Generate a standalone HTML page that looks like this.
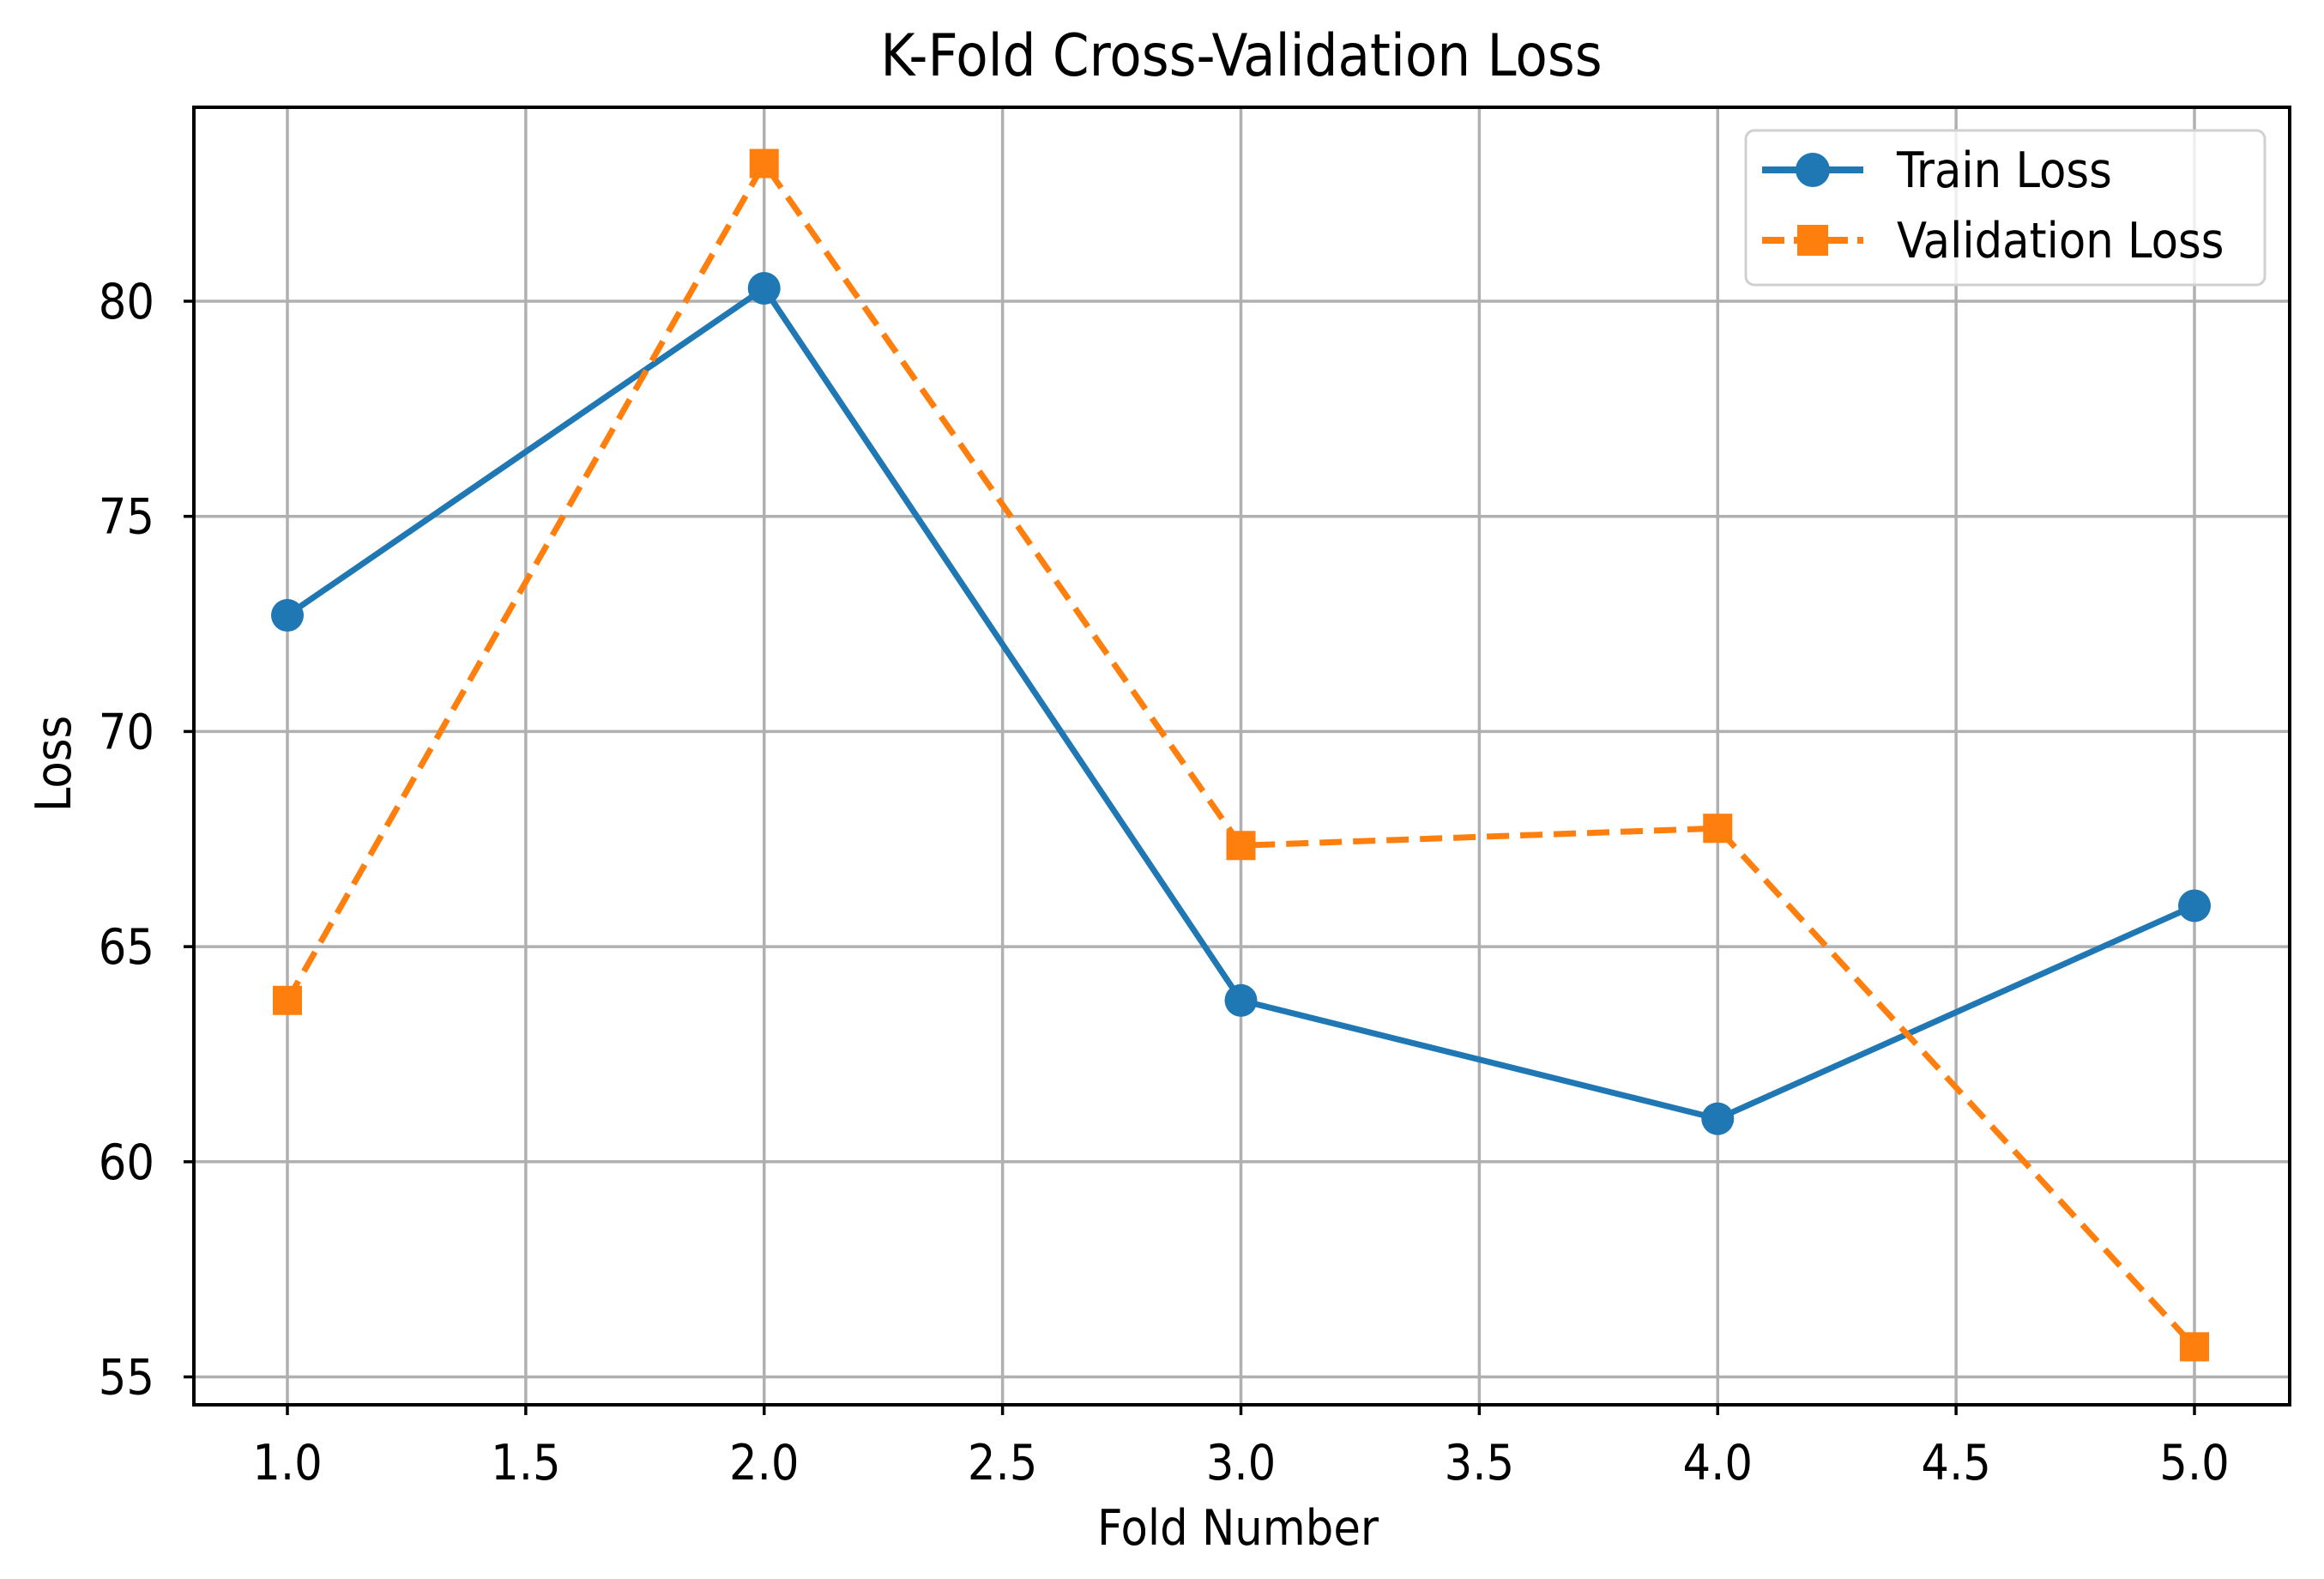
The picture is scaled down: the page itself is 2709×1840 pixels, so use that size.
<!DOCTYPE html>
<html><head><meta charset="utf-8"><style>
html,body{margin:0;padding:0;background:#fff;}
svg{display:block;font-family:"DejaVu Sans Condensed","DejaVu Sans","Liberation Sans",sans-serif;}
</style></head><body>
<svg id="chart" width="2709" height="1840" viewBox="0 0 2709 1840" xmlns="http://www.w3.org/2000/svg">
<rect width="2709" height="1840" fill="#fff"/>
<g id="grid"></g>
<g id="series"></g>
<rect x="226" y="125" width="2443" height="1512" fill="none" stroke="#000" stroke-width="4"/>
<g id="ticks" font-size="57" fill="#000"></g>
<text x="1447" y="88" font-size="68" text-anchor="middle">K-Fold Cross-Validation Loss</text>
<text x="1443" y="1800" font-size="57" text-anchor="middle">Fold Number</text>
<text transform="translate(82,890) rotate(-90)" font-size="57" text-anchor="middle">Loss</text>
<g>
<rect x="2035" y="152" width="605" height="180" rx="10" fill="#fff" fill-opacity="0.8" stroke="#d0d0d0" stroke-width="3"/>
<g>
<line x1="2054" y1="198" x2="2172" y2="198" stroke="#1f77b4" stroke-width="8"/>
<circle cx="2113" cy="198" r="20" fill="#1f77b4"/>
<text x="2211" y="218" font-size="57">Train Loss</text>
</g>
<g>
<line x1="2054" y1="280" x2="2172" y2="280" stroke="#ff7f0e" stroke-width="8" stroke-dasharray="26,11"/>
<rect x="2095" y="262" width="36" height="36" fill="#ff7f0e"/>
<text x="2211" y="300" font-size="57">Validation Loss</text>
</g>
</g>
</svg>
<script>
const folds = [1, 2, 3, 4, 5];
const trainLoss = [72.7, 80.3, 63.75, 61.0, 65.95];
const valLoss = [63.75, 83.2, 67.35, 67.75, 55.7];
const xTicks = [1.0, 1.5, 2.0, 2.5, 3.0, 3.5, 4.0, 4.5, 5.0];
const xTickLabels = ["1.0","1.5","2.0","2.5","3.0","3.5","4.0","4.5","5.0"];
const yTicks = [55, 60, 65, 70, 75, 80];
const yTickLabels = ["55","60","65","70","75","80"];

const NS = "http://www.w3.org/2000/svg";
const L = 226, R = 2669, T = 125, B = 1637;
function xScale(v){ return 335 + (v - 1) * (2558 - 335) / 4; }
function yScale(v){ return 1604.5 - (v - 55) * (1604.5 - 351) / 25; }
function mk(tag, attrs, parent){ const e = document.createElementNS(NS, tag); for (const k in attrs) e.setAttribute(k, attrs[k]); parent.appendChild(e); return e; }

const grid = document.getElementById('grid');
const ticks = document.getElementById('ticks');
xTicks.forEach((v, i) => {
  const x = xScale(v);
  const g = mk('line', {x1:x, y1:T, x2:x, y2:B, stroke:'#b0b0b0', 'stroke-width':3.5}, grid);
  
  
  const t = mk('line', {x1:x, y1:B, x2:x, y2:B+12, stroke:'#000', 'stroke-width':3.5}, ticks);
  
  
  const lb = mk('text', {x:x, y:1724, 'text-anchor':'middle'}, ticks);
  lb.textContent = xTickLabels[i];
  
  
});
yTicks.forEach((v, i) => {
  const y = yScale(v);
  const g = mk('line', {x1:L, y1:y, x2:R, y2:y, stroke:'#b0b0b0', 'stroke-width':3.5}, grid);
  
  
  const t = mk('line', {x1:L-12, y1:y, x2:L, y2:y, stroke:'#000', 'stroke-width':3.5}, ticks);
  
  
  const lb = mk('text', {x:180, y:y+20, 'text-anchor':'end'}, ticks);
  lb.textContent = yTickLabels[i];
  
  
});

const series = document.getElementById('series');
const trainPts = folds.map((f, i) => xScale(f) + ',' + yScale(trainLoss[i])).join(' ');
const valPts = folds.map((f, i) => xScale(f) + ',' + yScale(valLoss[i])).join(' ');
const tl = mk('polyline', {points:trainPts, fill:'none', stroke:'#1f77b4', 'stroke-width':7, 'stroke-linejoin':'round'}, series);


const vl = mk('polyline', {points:valPts, fill:'none', stroke:'#ff7f0e', 'stroke-width':7, 'stroke-dasharray':'26,13'}, series);


folds.forEach((f, i) => {
  const c = mk('circle', {cx:xScale(f), cy:yScale(trainLoss[i]), r:19, fill:'#1f77b4'}, series);
  
  
  const s = mk('rect', {x:xScale(f)-17, y:yScale(valLoss[i])-17, width:34, height:34, fill:'#ff7f0e'}, series);
  
  
});
</script>
</body></html>
